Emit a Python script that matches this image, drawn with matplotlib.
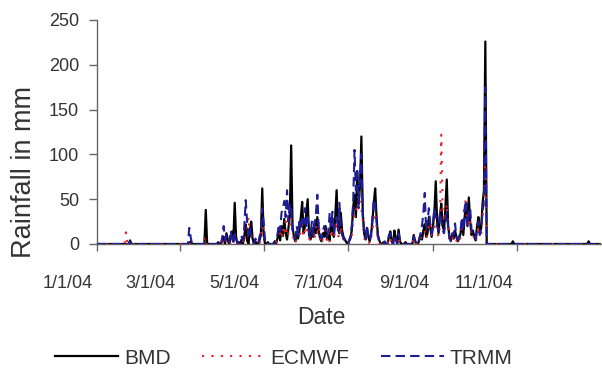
import numpy as np
import pandas as pd
import matplotlib
matplotlib.use("Agg")
import matplotlib.pyplot as plt
from matplotlib.transforms import ScaledTranslation

# Daily rainfall (mm) for the wet season, 1 Mar 2004 .. 10 Oct 2004
season_start = "2004-03-01"

bmd_season = [
    # Mar
    0, 0, 0, 0, 0, 0, 0, 0, 3, 0, 0, 0, 0, 0, 0, 0, 0, 0, 0, 38,
    0, 0, 0, 0, 0, 0, 0, 0, 2, 0, 0,
    # Apr
    5, 8, 0, 12, 4, 0, 6, 14, 3, 46, 8, 0, 2, 0, 5, 0, 9, 22, 4, 0,
    15, 25, 6, 0, 3, 0, 0, 4, 10, 62,
    # May
    10, 0, 0, 2, 0, 0, 0, 0, 3, 0, 6, 14, 4, 20, 9, 28, 12, 5, 18, 30,
    110, 20, 8, 3, 10, 6, 15, 30, 47, 12, 20,
    # Jun
    35, 50, 10, 5, 18, 8, 25, 12, 30, 15, 6, 3, 12, 8, 20, 5, 10, 4, 28, 15,
    8, 30, 60, 18, 12, 35, 15, 8, 5, 2,
    # Jul
    0, 3, 6, 15, 40, 55, 30, 80, 45, 65, 120, 35, 12, 5, 18, 8, 3, 10, 25, 45,
    62, 30, 10, 4, 0, 0, 2, 0, 0, 0, 8,
    # Aug
    14, 3, 0, 15, 6, 0, 16, 3, 0, 0, 0, 2, 0, 0, 0, 0, 0, 10, 3, 0,
    0, 4, 10, 5, 15, 22, 8, 12, 30, 18, 8,
    # Sep
    20, 35, 70, 25, 12, 30, 45, 20, 15, 40, 72, 20, 8, 4, 10, 6, 15, 8, 3, 6,
    12, 25, 10, 30, 45, 20, 52, 25, 10, 15,
    # Oct 1-10
    8, 4, 20, 30, 12, 18, 45, 60, 226, 0,
]

ecmwf_season = [
    # Mar
    0, 0, 0, 0, 0, 0, 0, 0, 0, 0, 0, 0, 0, 0, 0, 0, 0, 0, 8, 0,
    0, 0, 0, 0, 0, 0, 0, 0, 0, 0, 0,
    # Apr
    3, 0, 6, 0, 2, 0, 0, 8, 0, 12, 0, 0, 0, 0, 0, 4, 0, 10, 18, 30,
    8, 12, 0, 0, 0, 0, 2, 0, 6, 20,
    # May
    15, 0, 0, 0, 0, 0, 0, 0, 0, 2, 4, 8, 12, 6, 18, 10, 25, 8, 12, 20,
    30, 10, 5, 0, 8, 12, 6, 18, 22, 8, 15,
    # Jun
    20, 12, 6, 4, 10, 15, 8, 20, 12, 25, 5, 0, 6, 10, 15, 4, 8, 2, 12, 22,
    6, 18, 25, 10, 6, 20, 12, 4, 2, 0,
    # Jul
    0, 0, 4, 10, 25, 30, 40, 35, 60, 45, 40, 25, 8, 2, 10, 4, 0, 6, 15, 30,
    35, 20, 6, 0, 0, 0, 0, 0, 0, 0, 4,
    # Aug
    8, 0, 0, 6, 2, 0, 8, 0, 0, 0, 0, 0, 0, 0, 0, 0, 0, 6, 0, 0,
    0, 0, 6, 8, 10, 15, 6, 10, 20, 25, 10,
    # Sep
    12, 20, 30, 15, 8, 20, 122, 40, 25, 30, 45, 15, 4, 2, 6, 8, 10, 4, 0, 4,
    8, 20, 30, 45, 50, 18, 35, 20, 8, 10,
    # Oct 1-10
    6, 2, 12, 20, 8, 10, 30, 45, 100, 0,
]

trmm_season = [
    # Mar
    0, 0, 0, 0, 0, 0, 0, 18, 8, 0, 0, 0, 0, 0, 0, 0, 0, 0, 0, 2,
    0, 0, 0, 0, 0, 0, 0, 0, 0, 3, 0,
    # Apr
    8, 20, 4, 10, 6, 2, 15, 8, 0, 12, 5, 3, 0, 0, 8, 4, 20, 49, 25, 10,
    18, 8, 4, 0, 6, 2, 0, 8, 15, 40,
    # May
    25, 5, 0, 0, 0, 0, 0, 0, 0, 4, 10, 22, 15, 35, 40, 48, 30, 60, 25, 45,
    40, 15, 12, 6, 20, 10, 25, 18, 30, 22, 40,
    # Jun
    20, 30, 12, 8, 25, 10, 20, 35, 55, 18, 10, 6, 15, 20, 12, 8, 15, 35, 20, 36,
    12, 25, 30, 15, 46, 20, 10, 6, 3, 0,
    # Jul
    0, 4, 8, 20, 45, 105, 60, 85, 40, 75, 100, 30, 15, 6, 20, 10, 4, 12, 30, 50,
    45, 25, 8, 2, 0, 0, 0, 3, 0, 0, 10,
    # Aug
    12, 4, 0, 10, 8, 0, 12, 5, 0, 0, 0, 0, 0, 0, 0, 0, 0, 8, 4, 0,
    0, 6, 12, 20, 35, 57, 15, 25, 40, 22, 12,
    # Sep
    25, 40, 30, 20, 15, 35, 28, 15, 12, 25, 35, 18, 6, 3, 12, 10, 23, 8, 5, 8,
    15, 30, 15, 40, 49, 20, 38, 40, 15, 10,
    # Oct 1-10
    10, 6, 15, 25, 10, 20, 35, 50, 175, 0,
]

# Isolated rain days outside the season block
bmd_extra = {"2004-01-25": 4, "2004-10-29": 3, "2004-12-23": 3}
ecmwf_extra = {"2004-01-22": 13}
trmm_extra = {"2004-01-25": 3}

tick_dates = ["2004-01-01", "2004-03-01", "2004-05-01",
              "2004-07-01", "2004-09-01", "2004-11-01"]
tick_labels = ["1/1/04", "3/1/04", "5/1/04", "7/1/04", "9/1/04", "11/1/04"]
y_ticks = [0, 50, 100, 150, 200, 250]

days = pd.date_range("2004-01-01", "2004-12-31", freq="D")


def daily_series(season, extra):
    s = pd.Series(0.0, index=days)
    idx = pd.date_range(season_start, periods=len(season), freq="D")
    s.loc[idx] = season
    for d, v in extra.items():
        s.loc[pd.Timestamp(d)] = v
    return s


bmd = daily_series(bmd_season, bmd_extra)
ecmwf = daily_series(ecmwf_season, ecmwf_extra)
trmm = daily_series(trmm_season, trmm_extra)

plt.rcParams["font.family"] = ["Liberation Sans", "DejaVu Sans"]
text_col = "#333333"

fig = plt.figure(figsize=(6.02, 3.82), dpi=100)
ax = fig.add_axes([97 / 602, 1 - 244 / 382, 504 / 602, 224 / 382])

ax.plot(days, bmd.values, color="black", lw=1.6, label="BMD", zorder=3)
ax.plot(days, ecmwf.values, color="#e8202a", lw=1.5,
        linestyle=(0, (1, 3.5)), label="ECMWF", zorder=4)
ax.plot(days, trmm.values, color="#1e1e96", lw=1.5,
        linestyle=(0, (4.5, 2.5)), label="TRMM", zorder=5)

ax.set_xlim(pd.Timestamp("2004-01-01"), pd.Timestamp("2005-01-01"))
ax.set_ylim(0, 250)
ax.set_yticks(y_ticks)
ax.set_xticks(pd.to_datetime(tick_dates), tick_labels)

for side in ("top", "right"):
    ax.spines[side].set_visible(False)
for side in ("left", "bottom"):
    ax.spines[side].set_color("#666666")
    ax.spines[side].set_linewidth(1.0)

ax.tick_params(axis="y", direction="out", length=6, width=1.0,
               color="#666666", labelsize=13, labelcolor=text_col, pad=7)
ax.tick_params(axis="x", direction="out", length=5, width=1.0,
               color="#666666", labelsize=13, labelcolor=text_col, pad=17)

# date labels sit just to the left of their tick marks
for lab in ax.get_xticklabels():
    lab.set_horizontalalignment("right")
    lab.set_transform(lab.get_transform()
                      + ScaledTranslation(-4 / 100, 0, fig.dpi_scale_trans))

fig.text(24 / 602, 1 - 172 / 382, "Rainfall in mm", rotation=90,
         ha="center", va="center", fontsize=19.5, color=text_col)
fig.text(321 / 602, 1 - 317 / 382, "Date", ha="center", va="center",
         fontsize=16.5, color=text_col)

fig.legend(loc="center", bbox_to_anchor=(284 / 602, 1 - 358 / 382),
           ncol=3, frameon=False, fontsize=15, handlelength=3.0,
           handletextpad=0.3, columnspacing=1.5, labelcolor=text_col)

fig.savefig("out.png", dpi=100)
